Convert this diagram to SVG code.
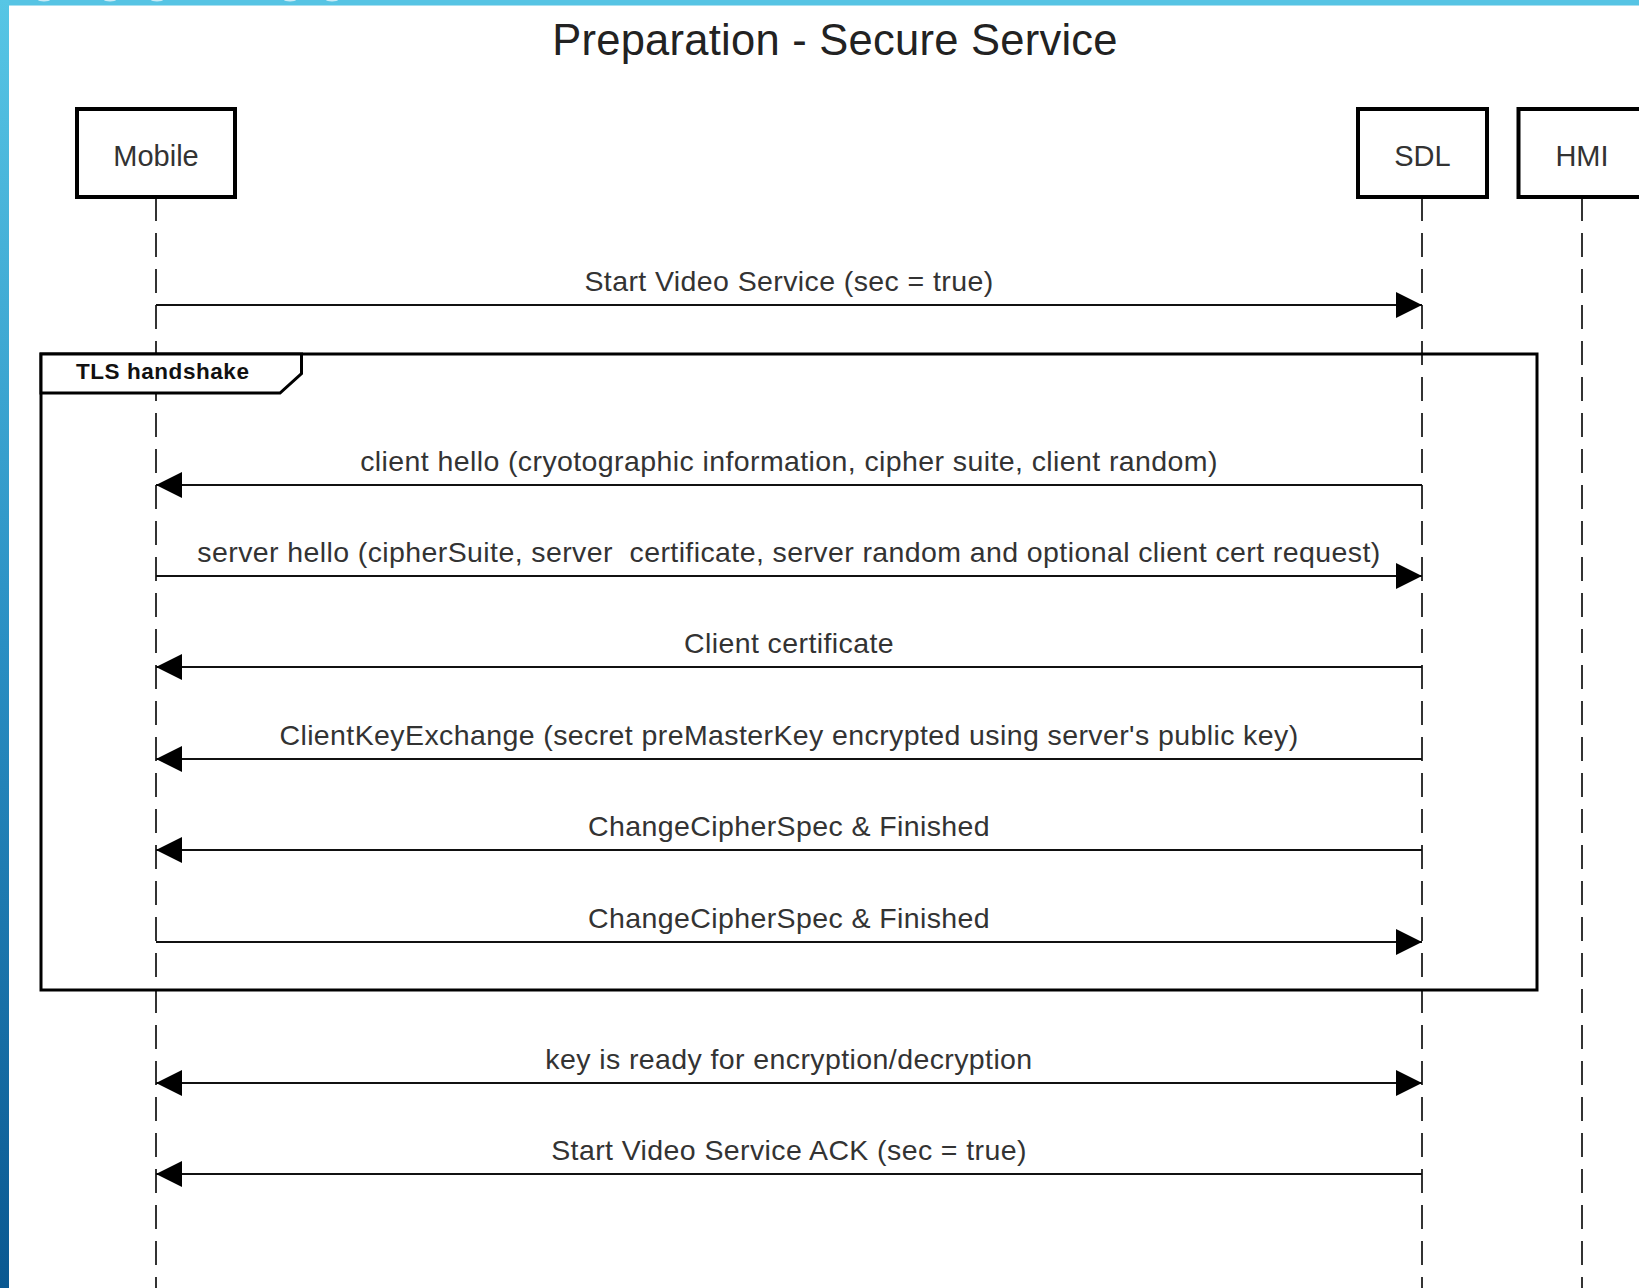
<svg xmlns="http://www.w3.org/2000/svg" width="1639" height="1288" viewBox="0 0 1639 1288">
  <defs>
    <linearGradient id="sideBand" x1="0" y1="0" x2="0" y2="1">
      <stop offset="0" stop-color="#57c6e5"/>
      <stop offset="0.5" stop-color="#2a8fc3"/>
      <stop offset="1" stop-color="#0a5891"/>
    </linearGradient>
    <marker id="head" markerUnits="userSpaceOnUse" markerWidth="27" markerHeight="27" refX="26" refY="13.5" orient="auto-start-reverse" viewBox="0 0 27 27">
      <path d="M0,0.5 L26,13.5 L0,26.5 Z" fill="#000"/>
    </marker>
    <style>
      .lbl { font-family: "Liberation Sans", Arial, sans-serif; fill: #333; }
      .title { font-size: 43.5px; fill: #222; letter-spacing: 0.25px; }
      .part { font-size: 29px; text-anchor: middle; }
      .msg { font-size: 28.5px; text-anchor: middle; letter-spacing: 0.4px; }
      .box { fill: #fff; stroke: #000; stroke-width: 4; }
      .life { stroke: #333; stroke-width: 2; stroke-dasharray: 24 12; fill: none; }
      .arrow { stroke: #111; stroke-width: 2; fill: none; marker-end: url(#head); }
      .both { marker-start: url(#head); }
      .frame { fill: none; stroke: #000; stroke-width: 3; }
      .tab { fill: #fff; stroke: #000; stroke-width: 3; stroke-linejoin: miter; }
      .tabtxt { font-family: "Liberation Sans", Arial, sans-serif; font-weight: bold; font-size: 22.5px; fill: #111; letter-spacing: 0.55px; }
    </style>
  </defs>

  <!-- page background and window edge -->
  <rect x="0" y="0" width="1639" height="1288" fill="#fff"/>
  <rect x="0" y="0" width="1639" height="5" fill="#56c4e4"/>
  <rect x="0" y="5" width="1639" height="1" fill="#a8e0f0"/>
  <rect x="0" y="0" width="9" height="1288" fill="url(#sideBand)"/>
  <g fill="#e6f6fb" opacity="0.8">
    <ellipse cx="44" cy="0" rx="6" ry="1.5"/>
    <ellipse cx="110" cy="0" rx="6" ry="1.5"/>
    <ellipse cx="157" cy="0" rx="6" ry="1.5"/>
    <ellipse cx="290" cy="0" rx="6" ry="1.5"/>
    <ellipse cx="332" cy="0" rx="6" ry="1.5"/>
  </g>

  <text class="lbl title" x="835" y="55" text-anchor="middle">Preparation - Secure Service</text>

  <!-- lifelines -->
  <g id="lifelines">
    <line class="life" x1="156" y1="197" x2="156" y2="1288"/>
    <line class="life" x1="1422" y1="197" x2="1422" y2="1288"/>
    <line class="life" x1="1582" y1="197" x2="1582" y2="1288"/>
  </g>

  <!-- participants -->
  <g id="mobile">
    <rect class="box" x="77" y="109" width="158" height="88"/>
    <text class="lbl part" x="156" y="166">Mobile</text>
  </g>
  <g id="sdl">
    <rect class="box" x="1358" y="109" width="129" height="88"/>
    <text class="lbl part" x="1422.5" y="166">SDL</text>
  </g>
  <g id="hmi">
    <rect class="box" x="1518.5" y="109" width="129" height="88"/>
    <text class="lbl part" x="1582" y="166">HMI</text>
  </g>

  <!-- combined fragment -->
  <g id="tls-handshake">
    <rect class="frame" x="41" y="354" width="1496" height="636"/>
    <path class="tab" d="M41,354 L301.5,354 L301.5,373.5 L280,393 L41,393 Z"/>
    <text class="tabtxt" x="76" y="379">TLS handshake</text>
  </g>

  <!-- messages -->
  <g id="connectors">
    <line class="arrow" x1="156" y1="305" x2="1422" y2="305"/>
    <line class="arrow" x1="1422" y1="485" x2="156" y2="485"/>
    <line class="arrow" x1="156" y1="576" x2="1422" y2="576"/>
    <line class="arrow" x1="1422" y1="667" x2="156" y2="667"/>
    <line class="arrow" x1="1422" y1="759" x2="156" y2="759"/>
    <line class="arrow" x1="1422" y1="850" x2="156" y2="850"/>
    <line class="arrow" x1="156" y1="942" x2="1422" y2="942"/>
    <line class="arrow both" x1="156" y1="1083" x2="1422" y2="1083"/>
    <line class="arrow" x1="1422" y1="1174" x2="156" y2="1174"/>
  </g>

  <g id="message-labels">
    <text class="lbl msg" x="789" y="291">Start Video Service (sec = true)</text>
    <text class="lbl msg" x="789" y="471">client hello (cryotographic information, cipher suite, client random)</text>
    <text class="lbl msg" x="789" y="562" xml:space="preserve">server hello (cipherSuite, server  certificate, server random and optional client cert request)</text>
    <text class="lbl msg" x="789" y="653">Client certificate</text>
    <text class="lbl msg" x="789" y="745">ClientKeyExchange (secret preMasterKey encrypted using server's public key)</text>
    <text class="lbl msg" x="789" y="836">ChangeCipherSpec &amp; Finished</text>
    <text class="lbl msg" x="789" y="928">ChangeCipherSpec &amp; Finished</text>
    <text class="lbl msg" x="789" y="1069">key is ready for encryption/decryption</text>
    <text class="lbl msg" x="789" y="1160">Start Video Service ACK (sec = true)</text>
  </g>
</svg>
